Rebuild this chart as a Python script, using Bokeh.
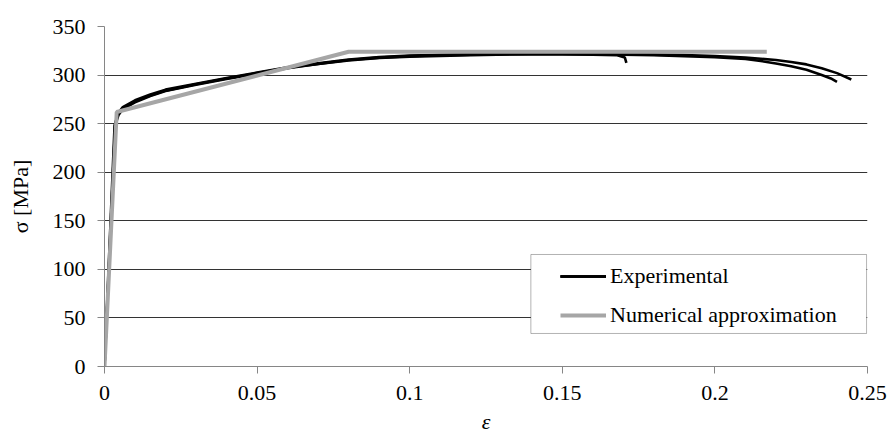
from bokeh.plotting import figure
from bokeh.models import Legend, LegendItem, BoxAnnotation, FixedTicker, Range1d
from bokeh.embed import file_html
from bokeh.resources import INLINE

# ---- data ----
# Experimental curve 1 (breaks at ~0.171)
exp1_strain = [0.0, 0.0035, 0.0045, 0.006, 0.01, 0.015, 0.02, 0.03, 0.04, 0.05, 0.06, 0.07, 0.08,
               0.09, 0.10, 0.11, 0.12, 0.13, 0.14, 0.15, 0.16, 0.168, 0.1705, 0.171]
exp1_stress = [0.0, 250, 260, 266, 273, 279, 284, 290.5, 296.5, 302, 307.5, 311.5, 315.5,
               318, 319.5, 320.5, 321, 321.5, 321.5, 321.5, 321, 320.5, 318, 312.5]
# Experimental curve 2 (ends at ~0.240)
exp2_strain = [0.0, 0.0033, 0.0045, 0.006, 0.01, 0.015, 0.02, 0.03, 0.04, 0.05, 0.06, 0.07, 0.08,
               0.09, 0.10, 0.12, 0.14, 0.16, 0.18, 0.19, 0.20, 0.21, 0.215, 0.22, 0.225, 0.23,
               0.235, 0.238, 0.240]
exp2_stress = [0.0, 248, 261, 267, 274, 280, 285, 291, 297, 302.5, 308, 312, 316,
               318.5, 320, 321.5, 322, 321.5, 320.5, 319.5, 318.5, 316.5, 314.5, 312, 309, 305.5,
               300, 296.5, 293]
# Experimental curve 3 (ends at ~0.245)
exp3_strain = [0.0, 0.0036, 0.0046, 0.006, 0.01, 0.015, 0.02, 0.03, 0.04, 0.05, 0.06, 0.07, 0.08,
               0.09, 0.10, 0.12, 0.14, 0.16, 0.18, 0.19, 0.20, 0.21, 0.22, 0.225, 0.23, 0.235,
               0.24, 0.2447]
exp3_stress = [0.0, 249, 259, 265, 272, 278.5, 283.5, 290, 296, 301.5, 307, 311.5, 315,
               317.5, 319, 320.5, 321.5, 321.5, 321, 320.5, 319.5, 318, 315.5, 313.5, 311, 307,
               302, 295.5]
# Numerical approximation (multilinear)
num_strain = [0.0, 0.004, 0.08, 0.217]
num_stress = [0.0, 262, 324, 324]

x_ticks = [0, 0.05, 0.1, 0.15, 0.2, 0.25]
x_tick_labels = ["0", "0.05", "0.1", "0.15", "0.2", "0.25"]
y_ticks = [0, 50, 100, 150, 200, 250, 300, 350]

series_labels = ["Experimental", "Numerical approximation"]

# ---- style ----
FONT = "Liberation Serif"
FS = "22px"
BLACK = "#000000"
GRAY = "#a6a6a6"
AXIS_GRAY = "#868686"

p = figure(width=887, height=442, output_backend="svg", toolbar_location=None,
           x_range=Range1d(0, 0.25), y_range=Range1d(0, 350),
           min_border_left=104, min_border_right=20, min_border_top=26, min_border_bottom=76)
p.outline_line_color = None
p.background_fill_color = "white"
p.border_fill_color = "white"

r1 = p.line(exp1_strain, exp1_stress, line_color=BLACK, line_width=2.6)
r2 = p.line(exp2_strain, exp2_stress, line_color=BLACK, line_width=2.6)
r3 = p.line(exp3_strain, exp3_stress, line_color=BLACK, line_width=2.6)
rn = p.line(num_strain, num_stress, line_color=GRAY, line_width=4)

# axes
p.xaxis.ticker = FixedTicker(ticks=x_ticks)
p.xaxis.major_label_overrides = {t: l for t, l in zip(x_ticks, x_tick_labels)}
p.yaxis.ticker = FixedTicker(ticks=y_ticks)
p.xaxis.axis_label = "ε"
p.yaxis.axis_label = "σ [MPa]"
for ax in (p.xaxis, p.yaxis):
    ax.axis_line_color = AXIS_GRAY
    ax.major_tick_line_color = AXIS_GRAY
    ax.minor_tick_line_color = None
    ax.major_tick_in = 0
    ax.major_tick_out = 7
    ax.major_label_text_font = FONT
    ax.major_label_text_font_size = FS
    ax.major_label_text_color = "black"
    ax.major_label_standoff = 12
    ax.axis_label_text_font = FONT
    ax.axis_label_text_font_size = FS
    ax.axis_label_text_color = "black"

p.xaxis.axis_label_text_font_style = "italic"
p.xaxis.axis_label_standoff = 6
p.yaxis.axis_label_text_font_style = "normal"
p.yaxis.axis_label_standoff = 17

p.xgrid.grid_line_color = None
p.ygrid.grid_line_color = "#333333"
p.ygrid.grid_line_width = 1

# legend box (frame of the legend)
box = BoxAnnotation(left=0.1397, right=0.2497, bottom=34.0, top=115.3,
                    fill_color="white", fill_alpha=1.0,
                    line_color="black", line_width=1)
p.add_layout(box)

legend = Legend(items=[LegendItem(label=series_labels[0], renderers=[r1, r2, r3]),
                       LegendItem(label=series_labels[1], renderers=[rn])],
                location=(446, 28), padding=10, spacing=13,
                label_height=20, glyph_height=20, glyph_width=46, label_standoff=4,
                label_text_color="black",
                background_fill_alpha=0, border_line_alpha=0)
legend.label_text_font = FONT
legend.label_text_font_size = FS
p.add_layout(legend, "center")

open("out.html", "w").write(file_html(p, INLINE))
